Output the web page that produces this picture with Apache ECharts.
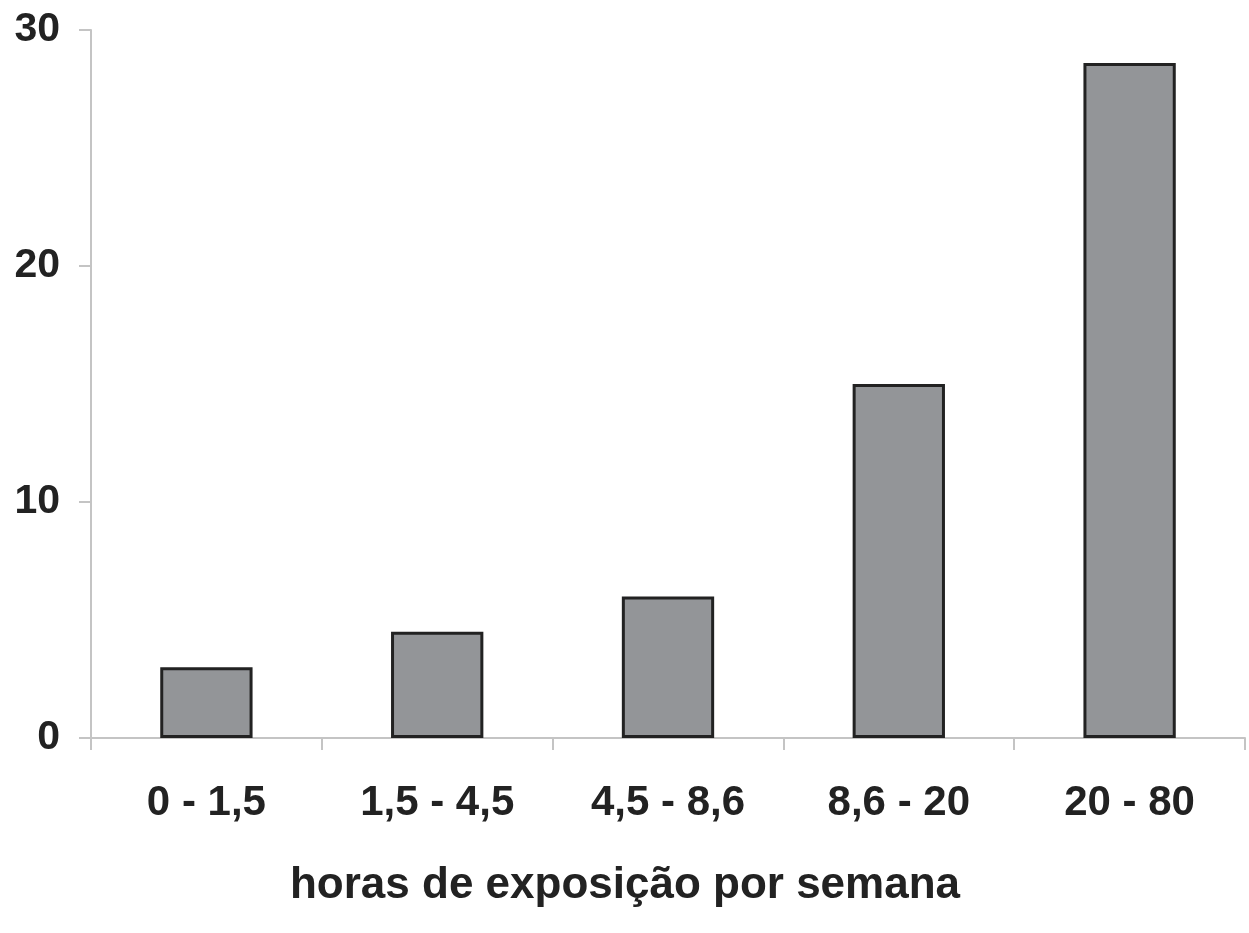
<!DOCTYPE html>
<html>
<head>
<meta charset="utf-8">
<script src="https://cdn.jsdelivr.net/npm/echarts@6/dist/echarts.min.js"></script>
<style>
  html, body { margin: 0; padding: 0; background: #fff; }
  #main { width: 1249px; height: 933px; }
</style>
</head>
<body>
<div id="main"></div>
<script>
var categories = ['0 - 1,5', '1,5 - 4,5', '4,5 - 8,6', '8,6 - 20', '20 - 80'];
var values = [3, 4.5, 6, 15, 28.6];
var xName = 'horas de exposição por semana';

var chartDom = document.getElementById('main');
var myChart = echarts.init(chartDom);
var option;

option = {
  animation: false,
  grid: { left: 91, right: 4, top: 30, bottom: 195 },
  xAxis: {
    type: 'category',
    data: categories,
    name: xName,
    nameLocation: 'middle',
    nameGap: 126,
    // name sits a bit left of the plot centre in the original
    nameTextStyle: { fontFamily: 'Liberation Sans', fontWeight: 'bold', fontSize: 44, color: '#222', padding: [0, 86, 0, 0] },
    axisLine: { lineStyle: { color: '#c4c4c4', width: 2 } },
    axisTick: { show: true, length: 12, lineStyle: { color: '#c4c4c4', width: 2 } },
    axisLabel: { margin: 44, fontFamily: 'Liberation Sans', fontWeight: 'bold', fontSize: 42, color: '#222' }
  },
  yAxis: {
    type: 'value',
    min: 0,
    max: 30,
    interval: 10,
    axisLine: { show: true, lineStyle: { color: '#c4c4c4', width: 2 } },
    axisTick: { show: true, length: 12, lineStyle: { color: '#c4c4c4', width: 2 } },
    splitLine: { show: false },
    axisLabel: { margin: 31, fontFamily: 'Liberation Sans', fontWeight: 'bold', fontSize: 41, color: '#222' }
  },
  series: [
    {
      type: 'bar',
      data: values,
      barWidth: '40%',
      itemStyle: { color: '#939598', borderColor: '#222', borderWidth: 3 }
    }
  ]
};

myChart.setOption(option);
</script>
</body>
</html>
